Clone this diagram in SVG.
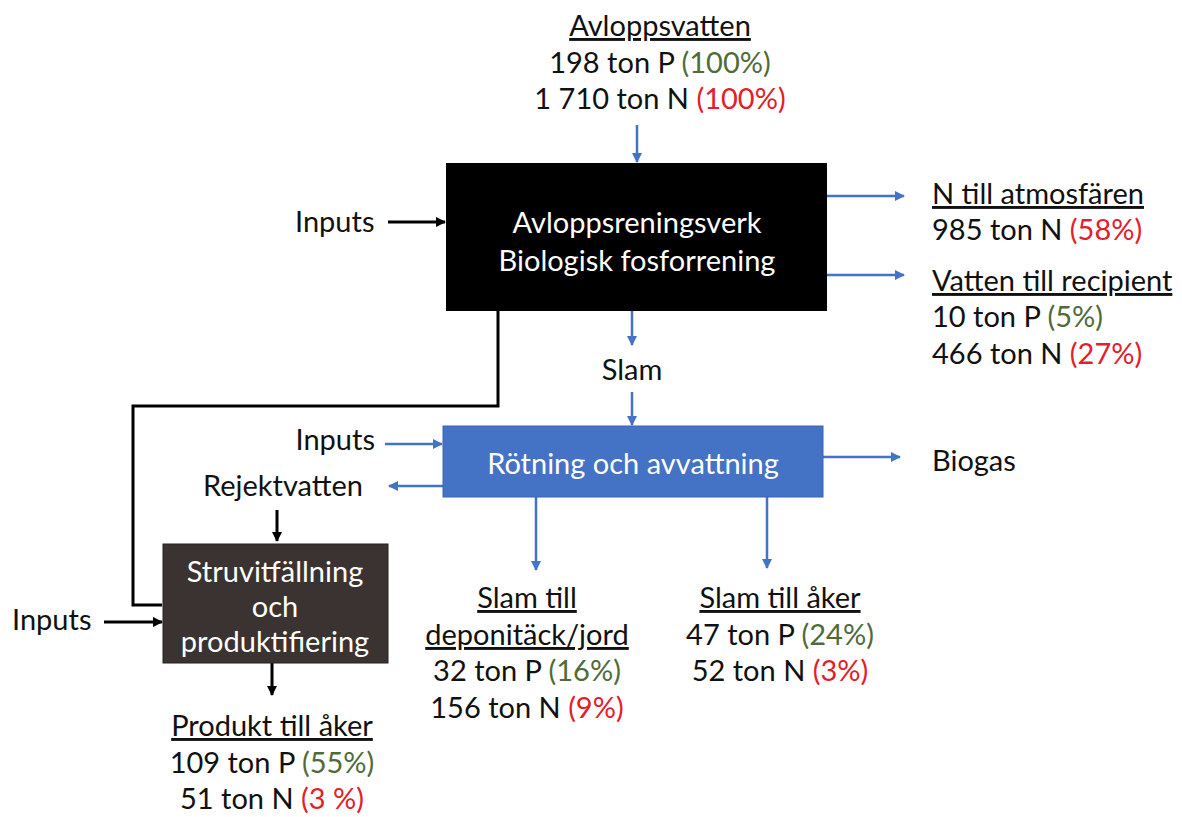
<svg xmlns="http://www.w3.org/2000/svg" width="1182" height="817" viewBox="0 0 1182 817">
<style>
text{font-family:Lato,"Noto Sans","Liberation Sans",sans-serif;font-size:29px;fill:#111}
.c{text-anchor:middle}
.w{fill:#fff}
.u{text-decoration:underline}
.g{fill:#4f6b3a}
.r{fill:#e3202a}
.bl{stroke:#4472c4;stroke-width:2.5;fill:none}
.bk{stroke:#000;stroke-width:3;fill:none}
</style>
<defs>
<marker id="ab" viewBox="0 0 10 10" refX="9" refY="5" markerWidth="4" markerHeight="4" orient="auto"><path d="M0,0L10,5L0,10z" fill="#4472c4"/></marker>
<marker id="ak" viewBox="0 0 10 10" refX="9" refY="5" markerWidth="3.5" markerHeight="3.5" orient="auto"><path d="M0,0L10,5L0,10z" fill="#000"/></marker>
</defs>
<rect width="1182" height="817" fill="#fff"/>
<g id="connectors">
<path class="bl" d="M637,125V162" marker-end="url(#ab)"/>
<path class="bk" d="M388,222H445" marker-end="url(#ak)"/>
<path class="bl" d="M827,196H904" marker-end="url(#ab)"/>
<path class="bl" d="M827,275H904" marker-end="url(#ab)"/>
<path class="bl" d="M632,311V345" marker-end="url(#ab)"/>
<path class="bl" d="M632,392V425" marker-end="url(#ab)"/>
<path class="bk" d="M498,311V406H133V605H162"/>
<path class="bl" d="M385,444H442" marker-end="url(#ab)"/>
<path class="bl" d="M443,486H389" marker-end="url(#ab)"/>
<path class="bk" d="M277,510V541" marker-end="url(#ak)"/>
<path class="bk" d="M104,622H162" marker-end="url(#ak)"/>
<path class="bk" d="M272,663V695" marker-end="url(#ak)"/>
<path class="bl" d="M823,457H900" marker-end="url(#ab)"/>
<path class="bl" d="M536,497V570" marker-end="url(#ab)"/>
<path class="bl" d="M767,497V568" marker-end="url(#ab)"/>
</g>
<g id="avloppsvatten">
<text class="c u" x="660" y="36">Avloppsvatten</text>
<text class="c" x="660" y="73">198 ton P <tspan class="g">(100%)</tspan></text>
<text class="c" x="660" y="109">1 710 ton N <tspan class="r">(100%)</tspan></text>
</g>
<g id="verk">
<rect x="446" y="163" width="381" height="148" fill="#000"/>
<text class="c w" x="637" y="233">Avloppsreningsverk</text>
<text class="c w" x="637" y="271">Biologisk fosforrening</text>
</g>
<g id="inputs1"><text x="295" y="232">Inputs</text></g>
<g id="atmosfar">
<text class="u" x="932" y="204">N till atmosfären</text>
<text x="932" y="240">985 ton N <tspan class="r">(58%)</tspan></text>
</g>
<g id="recipient">
<text class="u" x="932" y="291">Vatten till recipient</text>
<text x="932" y="327">10 ton P <tspan class="g">(5%)</tspan></text>
<text x="932" y="364">466 ton N <tspan class="r">(27%)</tspan></text>
</g>
<g id="slam"><text class="c" x="632" y="380">Slam</text></g>
<g id="rotning">
<rect x="443" y="426" width="380" height="71" fill="#4472c4" stroke="#3b65b0" stroke-width="1"/>
<text class="c w" x="633" y="474">Rötning och avvattning</text>
</g>
<g id="inputs2"><text x="375" y="450" text-anchor="end">Inputs</text></g>
<g id="rejekt"><text x="363" y="496" text-anchor="end">Rejektvatten</text></g>
<g id="biogas"><text x="932" y="471">Biogas</text></g>
<g id="struvit">
<rect x="163" y="544" width="225" height="119" fill="#3b3331" stroke="#222" stroke-width="1"/>
<text class="c w" x="275" y="582">Struvitfällning</text>
<text class="c w" x="275" y="617">och</text>
<text class="c w" x="275" y="652">produktifiering</text>
</g>
<g id="inputs3"><text x="12" y="630">Inputs</text></g>
<g id="produkt">
<text class="c u" x="272" y="736">Produkt till åker</text>
<text class="c" x="272" y="773">109 ton P <tspan class="g">(55%)</tspan></text>
<text class="c" x="272" y="809">51 ton N <tspan class="r">(3 %)</tspan></text>
</g>
<g id="deponi">
<text class="c u" x="527" y="608">Slam till</text>
<text class="c u" x="527" y="645">deponitäck/jord</text>
<text class="c" x="527" y="681">32 ton P <tspan class="g">(16%)</tspan></text>
<text class="c" x="527" y="718">156 ton N <tspan class="r">(9%)</tspan></text>
</g>
<g id="aker">
<text class="c u" x="780" y="608">Slam till åker</text>
<text class="c" x="780" y="645">47 ton P <tspan class="g">(24%)</tspan></text>
<text class="c" x="780" y="681">52 ton N <tspan class="r">(3%)</tspan></text>
</g>
</svg>
